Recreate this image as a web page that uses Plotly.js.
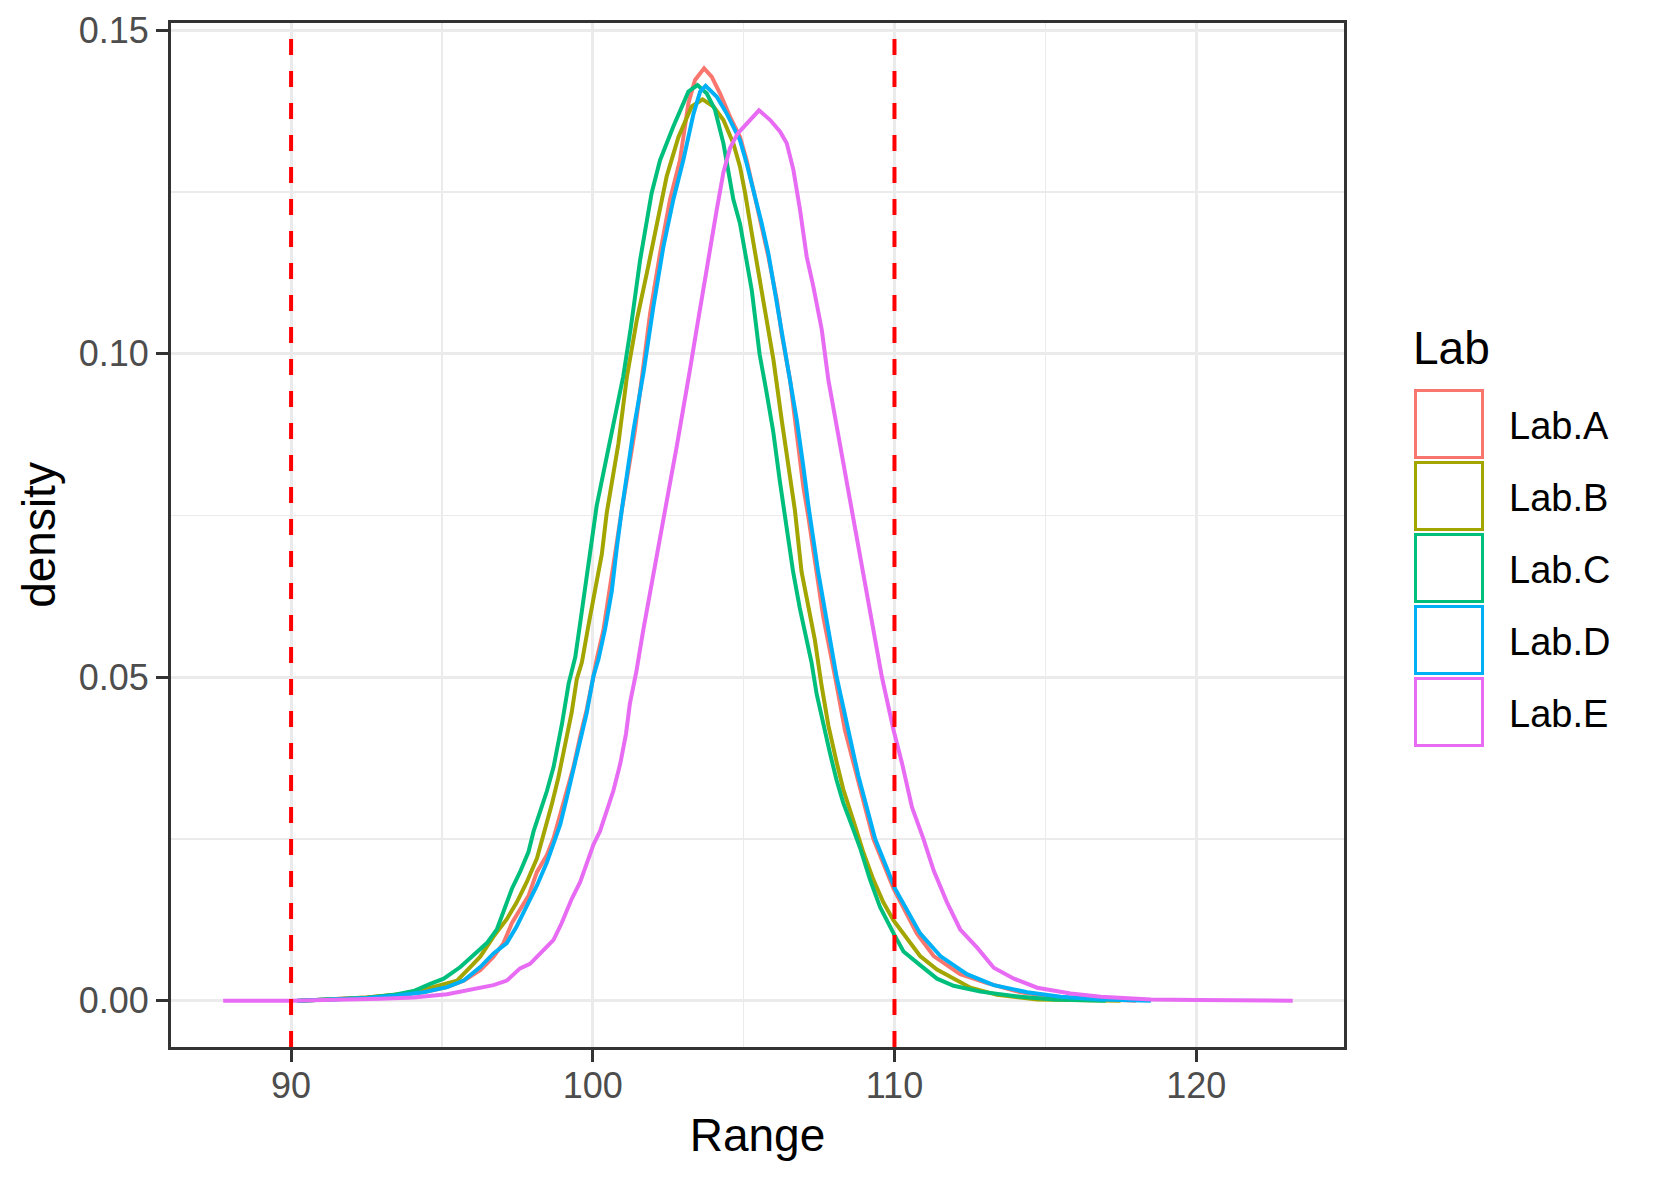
<!DOCTYPE html>
<html>
<head>
<meta charset="utf-8">
<script src="https://cdn.plot.ly/plotly-3.0.1.min.js"></script>
<style>
body {margin: 0; background: #fff}
#Graph1 {width: 1653px; height: 1181px}
</style>
</head>
<body>
<div id="Graph1"></div>
<script>
var labs = ["Lab.A", "Lab.B", "Lab.C", "Lab.D", "Lab.E"]
var lab_colors = ["#F8766D", "#A3A500", "#00BF7D", "#00B0F6", "#E76BF3"]
var limits = [90, 110]
var x_ticks = [90, 100, 110, 120]
var y_ticks = [0, 0.05, 0.10, 0.15]

// density curves
var labA_x = [90.3, 91.5, 92.5, 93.51, 94.39, 95.17, 95.72, 96.27, 96.71, 97.04, 97.32, 97.59, 97.87, 98.15, 98.48, 98.70, 98.92, 99.14, 99.36, 99.58, 99.80, 100.02, 100.13, 100.35, 100.52, 100.74, 100.96, 101.18, 101.40, 101.62, 101.90, 102.23, 102.56, 102.89, 103.17, 103.39, 103.69, 103.94, 104.22, 104.55, 104.88, 105.10, 105.32, 105.60, 105.82, 106.10, 106.26, 106.54, 106.76, 106.98, 107.14, 107.42, 107.64, 108.03, 108.36, 108.75, 109.30, 109.97, 110.74, 111.30, 112.18, 113.07, 114.18, 115.29, 118.0]
var labA_y = [0, 0.0002, 0.0005, 0.0009, 0.0013, 0.0021, 0.0031, 0.0047, 0.0068, 0.0089, 0.0120, 0.0141, 0.0162, 0.0199, 0.0225, 0.0251, 0.0288, 0.0324, 0.0361, 0.0408, 0.0450, 0.0501, 0.0528, 0.0572, 0.0624, 0.0696, 0.0758, 0.0820, 0.0882, 0.0960, 0.1062, 0.1155, 0.1238, 0.1299, 0.1387, 0.1423, 0.1441, 0.1428, 0.1402, 0.1366, 0.1335, 0.1299, 0.1253, 0.1201, 0.1150, 0.1083, 0.1031, 0.0959, 0.0877, 0.0794, 0.0749, 0.0663, 0.0593, 0.0501, 0.0418, 0.0348, 0.0250, 0.0173, 0.0104, 0.0069, 0.0041, 0.0027, 0.0013, 0.0006, 0]

var labB_x = [90.3, 91.5, 92.5, 93.62, 94.28, 94.94, 95.50, 95.94, 96.27, 96.71, 97.15, 97.48, 97.81, 98.15, 98.37, 98.64, 98.86, 99.08, 99.30, 99.47, 99.64, 99.86, 100.08, 100.30, 100.46, 100.85, 101.13, 101.46, 101.79, 102.12, 102.45, 102.84, 103.28, 103.64, 104.00, 104.33, 104.66, 104.88, 105.05, 105.27, 105.49, 105.71, 105.99, 106.26, 106.54, 106.70, 106.92, 107.14, 107.36, 107.58, 107.81, 108.08, 108.30, 108.64, 108.97, 109.30, 109.63, 109.97, 110.30, 110.85, 111.41, 111.96, 112.52, 113.40, 114.73, 117.5]
var labB_y = [0, 0.0002, 0.0005, 0.0010, 0.0016, 0.0024, 0.0031, 0.0052, 0.0068, 0.0099, 0.0126, 0.0152, 0.0183, 0.0220, 0.0256, 0.0303, 0.0345, 0.0398, 0.0445, 0.0497, 0.0523, 0.0581, 0.0633, 0.0690, 0.0753, 0.0861, 0.0964, 0.1052, 0.1124, 0.1201, 0.1274, 0.1335, 0.1382, 0.1393, 0.1382, 0.1361, 0.1325, 0.1289, 0.1248, 0.1186, 0.1124, 0.1062, 0.0990, 0.0898, 0.0810, 0.0758, 0.0663, 0.0610, 0.0558, 0.0488, 0.0425, 0.0369, 0.0327, 0.0278, 0.0229, 0.0187, 0.0152, 0.0124, 0.0104, 0.0069, 0.0048, 0.0034, 0.0020, 0.0009, 0.0002, 0]

var labC_x = [90.2, 91.5, 92.5, 93.4, 94.06, 94.61, 95.06, 95.61, 96.16, 96.49, 96.82, 97.04, 97.32, 97.59, 97.87, 98.04, 98.26, 98.48, 98.70, 98.98, 99.20, 99.42, 99.58, 99.80, 99.97, 100.13, 100.35, 100.68, 101.01, 101.26, 101.57, 101.95, 102.23, 102.67, 103.17, 103.47, 103.78, 104.05, 104.33, 104.66, 104.88, 105.27, 105.53, 105.75, 105.98, 106.20, 106.42, 106.64, 106.86, 107.08, 107.25, 107.42, 107.64, 107.86, 108.08, 108.30, 108.64, 108.86, 109.19, 109.52, 109.97, 110.30, 110.85, 111.41, 111.96, 112.85, 114.18, 115.29, 117.0]
var labC_y = [0, 0.0002, 0.0004, 0.0009, 0.0015, 0.0026, 0.0034, 0.0052, 0.0076, 0.0089, 0.0110, 0.0136, 0.0173, 0.0199, 0.0230, 0.0262, 0.0293, 0.0324, 0.0361, 0.0428, 0.0490, 0.0531, 0.0583, 0.0655, 0.0707, 0.0765, 0.0815, 0.0890, 0.0965, 0.1040, 0.1145, 0.1248, 0.1299, 0.1351, 0.1405, 0.1415, 0.1402, 0.1377, 0.1325, 0.1238, 0.1201, 0.1098, 0.0999, 0.0943, 0.0880, 0.0803, 0.0733, 0.0663, 0.0607, 0.0558, 0.0523, 0.0474, 0.0425, 0.0383, 0.0341, 0.0306, 0.0264, 0.0236, 0.0187, 0.0145, 0.0104, 0.0076, 0.0055, 0.0034, 0.0023, 0.0014, 0.0006, 0.0002, 0]

var labD_x = [90.2, 91.5, 92.5, 93.51, 94.39, 95.17, 95.72, 96.27, 96.71, 97.15, 97.48, 97.81, 98.15, 98.48, 98.70, 98.92, 99.14, 99.36, 99.58, 99.80, 100.02, 100.19, 100.41, 100.63, 100.80, 100.96, 101.35, 101.68, 102.01, 102.34, 102.67, 103.00, 103.34, 103.56, 103.74, 104.11, 104.44, 104.88, 105.10, 105.38, 105.60, 105.82, 106.04, 106.32, 106.54, 106.76, 106.98, 107.15, 107.47, 107.73, 108.08, 108.47, 108.80, 109.36, 110.02, 110.85, 111.52, 112.40, 113.29, 114.40, 115.51, 116.84, 118.5]
var labD_y = [0, 0.0002, 0.0004, 0.0008, 0.0013, 0.0021, 0.0031, 0.0052, 0.0073, 0.0089, 0.0115, 0.0146, 0.0178, 0.0214, 0.0241, 0.0272, 0.0314, 0.0356, 0.0398, 0.0445, 0.0501, 0.0528, 0.0575, 0.0633, 0.0701, 0.0758, 0.0882, 0.0970, 0.1073, 0.1165, 0.1238, 0.1299, 0.1371, 0.1405, 0.1414, 0.1397, 0.1371, 0.1330, 0.1294, 0.1243, 0.1201, 0.1155, 0.1093, 0.1016, 0.0959, 0.0898, 0.0825, 0.0764, 0.0663, 0.0593, 0.0501, 0.0418, 0.0348, 0.0250, 0.0173, 0.0104, 0.0069, 0.0041, 0.0024, 0.0013, 0.0006, 0.0002, 0]

var labE_x = [87.75, 90.0, 92.96, 94.06, 95.17, 96.05, 96.71, 97.15, 97.59, 97.92, 98.37, 98.70, 98.97, 99.30, 99.58, 99.80, 100.02, 100.24, 100.46, 100.68, 100.91, 101.10, 101.23, 101.45, 101.67, 101.89, 102.11, 102.33, 102.56, 102.78, 103.00, 103.22, 103.44, 103.66, 103.88, 104.10, 104.33, 104.55, 104.80, 105.10, 105.51, 105.88, 106.21, 106.43, 106.65, 106.87, 107.09, 107.31, 107.59, 107.81, 108.14, 108.41, 108.64, 108.97, 109.30, 109.58, 109.97, 110.24, 110.58, 110.96, 111.30, 111.74, 112.18, 112.74, 113.29, 113.96, 114.73, 115.84, 116.84, 118.5, 120.0, 123.2]
var labE_y = [0, 0, 0.0003, 0.0005, 0.0010, 0.0018, 0.0024, 0.0031, 0.0050, 0.0057, 0.0078, 0.0094, 0.0120, 0.0157, 0.0183, 0.0214, 0.0241, 0.0262, 0.0293, 0.0324, 0.0366, 0.0412, 0.0459, 0.0510, 0.0572, 0.0629, 0.0686, 0.0748, 0.0800, 0.0856, 0.0913, 0.0975, 0.1037, 0.1100, 0.1160, 0.1220, 0.1280, 0.1318, 0.1340, 0.1355, 0.1376, 0.1361, 0.1343, 0.1325, 0.1284, 0.1222, 0.1150, 0.1104, 0.1037, 0.0959, 0.0873, 0.0803, 0.0749, 0.0663, 0.0572, 0.0501, 0.0418, 0.0369, 0.0299, 0.0250, 0.0201, 0.0152, 0.0110, 0.0082, 0.0051, 0.0034, 0.0020, 0.0011, 0.0006, 0.0002, 0.0001, 0]

var xs = [labA_x, labB_x, labC_x, labD_x, labE_x]
var ys = [labA_y, labB_y, labC_y, labD_y, labE_y]

// page geometry (pixels)
var W = 1653, H = 1181
var M = {l: 171, r: 309, t: 23, b: 134}
var plot_w = W - M.l - M.r
var plot_h = H - M.t - M.b
function px_x(px){ return (px - M.l) / plot_w }
function px_y(py){ return (H - M.b - py) / plot_h }

var FONT = "Liberation Sans, Arial, sans-serif"

var traces = []
for (let i = 0; i < labs.length; i++){
    traces.push({
        x: xs[i],
        y: ys[i],
        name: labs[i],
        type: 'scatter',
        mode: 'lines',
        line: {color: lab_colors[i], width: 4},
        showlegend: false,
        hoverinfo: 'skip'
    })
}

var shapes = []
for (const v of limits){
    shapes.push({
        type: 'line', xref: 'x', yref: 'paper',
        x0: v, x1: v, y0: 0, y1: 1,
        line: {color: '#FF0000', width: 4, dash: '16px,16px'}
    })
}

// hand-made legend with square keys
var annotations = []
annotations.push({
    xref: 'paper', yref: 'paper', x: px_x(1411), y: px_y(348),
    xanchor: 'left', yanchor: 'middle', showarrow: false,
    text: 'Lab', font: {family: FONT, size: 46, color: '#000000'}
})
for (let i = 0; i < labs.length; i++){
    var cy = 424 + i * 72
    shapes.push({
        type: 'rect', xref: 'paper', yref: 'paper', layer: 'above',
        x0: px_x(1415.5), x1: px_x(1482.5), y0: px_y(cy - 33.5), y1: px_y(cy + 33.5),
        line: {color: lab_colors[i], width: 3}, fillcolor: 'rgba(0,0,0,0)'
    })
    annotations.push({
        xref: 'paper', yref: 'paper', x: px_x(1507), y: px_y(cy + 2),
        xanchor: 'left', yanchor: 'middle', showarrow: false,
        text: labs[i], font: {family: FONT, size: 38, color: '#000000'}
    })
}

var axis_common = {
    showline: true, mirror: true, linecolor: '#333333', linewidth: 3,
    ticks: 'outside', ticklen: 12, tickwidth: 3, tickcolor: '#333333',
    tickfont: {family: FONT, size: 36, color: '#4D4D4D'},
    showgrid: true, gridcolor: '#EBEBEB', gridwidth: 3,
    zeroline: false, automargin: false
}

var layout = {
    width: W, height: H,
    margin: M,
    paper_bgcolor: '#FFFFFF', plot_bgcolor: '#FFFFFF',
    showlegend: false,
    xaxis: Object.assign({}, axis_common, {
        range: [86.02, 124.9],
        tickmode: 'array', tickvals: x_ticks,
        ticklabelstandoff: -7,
        minor: {tickvals: [95, 105, 115], showgrid: true, gridcolor: '#EBEBEB', gridwidth: 1.5, ticks: ''},
        title: {text: 'Range', font: {family: FONT, size: 46, color: '#000000'}, standoff: 14}
    }),
    yaxis: Object.assign({}, axis_common, {
        range: [-0.00716, 0.1511],
        tickmode: 'array', tickvals: y_ticks, tickformat: '.2f',
        minor: {tickvals: [0.025, 0.075, 0.125], showgrid: true, gridcolor: '#EBEBEB', gridwidth: 1.5, ticks: ''},
        title: {text: 'density', font: {family: FONT, size: 46, color: '#000000'}, standoff: 9}
    }),
    shapes: shapes,
    annotations: annotations
}

Plotly.newPlot("Graph1", traces, layout, {displayModeBar: false, staticPlot: true})
</script>
</body>
</html>
